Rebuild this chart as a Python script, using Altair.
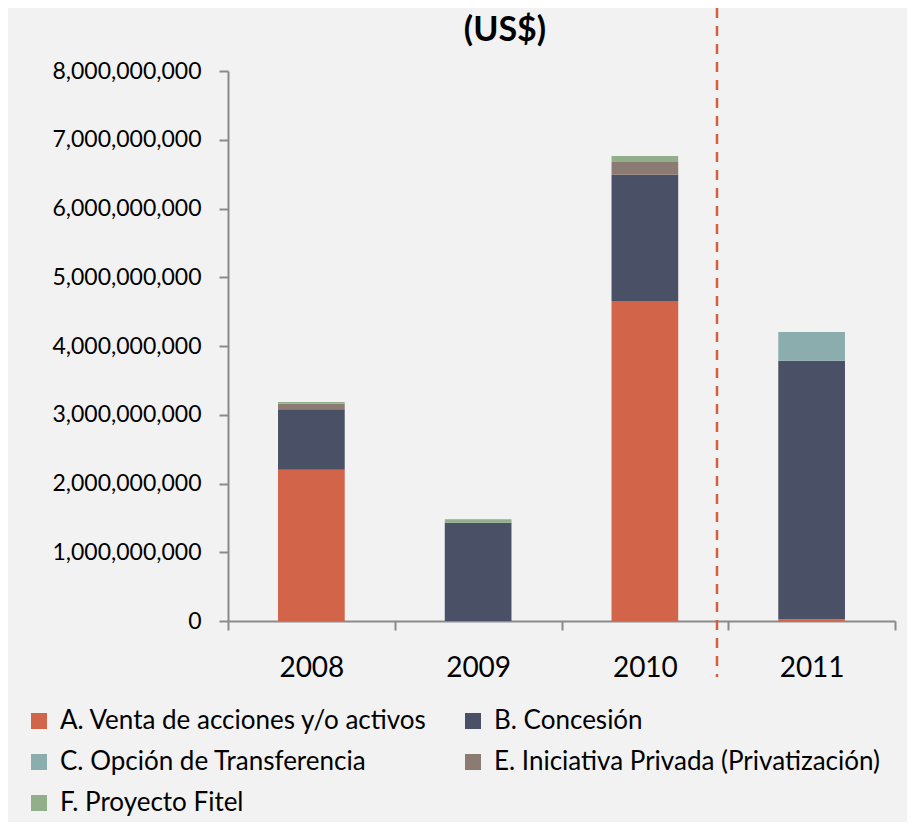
import altair as alt
import pandas as pd

years = ["2008", "2009", "2010", "2011"]
series = [
    "A. Venta de acciones y/o activos",
    "B. Concesión",
    "C. Opción de Transferencia",
    "E. Iniciativa Privada (Privatización)",
    "F. Proyecto Fitel",
]
colors = ["#D2644A", "#4A5065", "#8CADAD", "#8B7B72", "#92AF8B"]

val_A = [2.200e9, 0.0, 4.655e9, 0.025e9]
val_B = [0.880e9, 1.430e9, 1.835e9, 3.760e9]
val_C = [0.0, 0.0, 0.0, 0.418e9]
val_E = [0.080e9, 0.0, 0.185e9, 0.0]
val_F = [0.025e9, 0.050e9, 0.088e9, 0.0]

rows = []
for si, (name, vals) in enumerate(zip(series, [val_A, val_B, val_C, val_E, val_F])):
    for y, v in zip(years, vals):
        rows.append({"year": y, "series": name, "value": v, "idx": si})
df = pd.DataFrame(rows)

# legend is filled column by column: order entries so rows read A B / C E / F
legend_order = [0, 2, 4, 1, 3]
dom = [series[i] for i in legend_order]
rng = [colors[i] for i in legend_order]

FONT = "Lato"

bars = alt.Chart(df).mark_bar(width=alt.RelativeBandSize(0.4)).encode(
    x=alt.X("year:N", sort=years, title=None,
            scale=alt.Scale(paddingInner=0, paddingOuter=0),
            axis=alt.Axis(labelAngle=0, tickBand="extent", labelFontSize=28,
                          labelPadding=24, labelColor="#000000", labelFont=FONT)),
    y=alt.Y("value:Q", stack="zero", title=None,
            scale=alt.Scale(domain=[0, 8e9], nice=False),
            axis=alt.Axis(values=[i * 1e9 for i in range(9)], format=",d",
                          grid=False, labelFontSize=23, labelPadding=18,
                          labelColor="#000000", labelFont=FONT)),
    color=alt.Color("series:N", sort=dom,
                    scale=alt.Scale(domain=dom, range=rng),
                    legend=alt.Legend(title=None, orient="none", columns=2,
                                      legendX=-202, legendY=637,
                                      symbolType="square", symbolSize=256,
                                      symbolStrokeWidth=0, labelFontSize=26,
                                      labelFont=FONT, labelColor="#000000",
                                      labelOffset=8, rowPadding=15,
                                      columnPadding=32, padding=0,
                                      labelLimit=600)),
    order=alt.Order("idx:Q", sort="ascending"),
)

one = pd.DataFrame({"k": [0]})

divider = alt.Chart(one).mark_rule(color="#D4603F", strokeWidth=2.5,
                                   strokeDash=[10, 8]).encode(
    x=alt.value(489), y=alt.value(-63), y2=alt.value(606)
)

title = alt.Chart(one).mark_text(text="(US$)", font=FONT, fontSize=34,
                                 fontWeight="bold", align="center",
                                 baseline="alphabetic", color="#000000").encode(
    x=alt.value(277), y=alt.value(-30)
)

chart = alt.layer(bars, divider, title).properties(
    width=667, height=550,
    background="#F2F2F2",
    autosize=alt.AutoSizeParams(type="none"),
    padding={"left": 220, "top": 63, "right": 12, "bottom": 201},
).configure_view(stroke=None).configure_axis(
    domainColor="#8A8A8A", domainWidth=2, tickColor="#8A8A8A",
    tickWidth=2, tickSize=9
)

chart.save("out.html", embed_options={"renderer": "svg", "actions": False})
